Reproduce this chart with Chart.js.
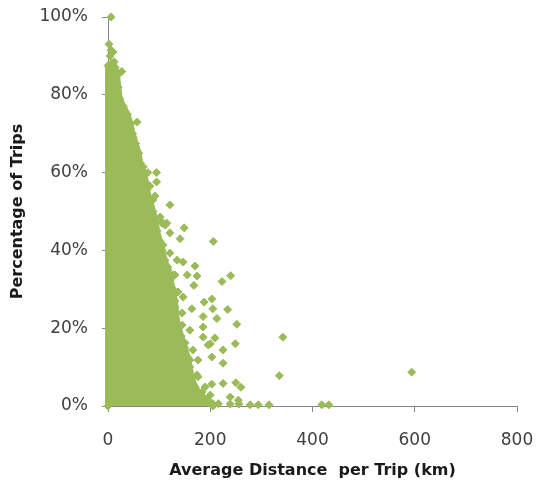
<!DOCTYPE html>
<html>
<head>
<meta charset="utf-8">
<script src="https://cdn.jsdelivr.net/npm/chart.js@4.4.1/dist/chart.umd.min.js"></script>
<style>
  html, body { margin: 0; padding: 0; background: #ffffff; }
  #wrap { width: 538px; height: 486px; }
</style>
</head>
<body>
<div id="wrap"><canvas id="c" width="538" height="486"></canvas></div>
<script>
// Axis ranges and tick steps
const distanceTicks = [0, 200, 400, 600, 800];   // km
const percentTicks = [0, 20, 40, 60, 80, 100];    // %

// Outer edge of the densely packed mass of trips (km, %)
const denseEdgeKm  = [0, 0, 8, 14, 18, 20, 23, 30, 38, 44, 48, 54, 60, 63, 70, 74, 76, 82, 88, 93, 96, 101, 106, 111, 117, 122, 127, 131, 133, 136, 143, 150, 156, 160, 163, 170, 180, 195, 205, 205];
const denseEdgePct = [0, 87.5, 88.2, 87, 85, 82, 79, 77, 75, 72.5, 70, 67.5, 65, 62.5, 60, 57.5, 55.5, 53, 50, 47.5, 45, 42.5, 40, 37.5, 35, 32.5, 30, 27, 24, 21, 18, 15, 12.5, 10, 7.5, 5, 3, 1.5, 0.6, 0];

// Trips scattered just outside that edge (km, %)
const fringeKm  = [33, 49, 39, 57, 69, 63, 72, 88, 82, 102, 115, 108, 121, 108, 121, 117, 127, 121, 137, 131, 145, 127, 145, 160, 151, 166, 160, 176, 190, 200];
const fringePct = [70.5, 69, 65, 64.5, 61.5, 58, 55, 53, 50.4, 48.6, 47, 47, 44.5, 41.4, 39.3, 35.7, 33.7, 30.6, 29.3, 25.4, 23.9, 23.4, 20.8, 19.5, 16.2, 14.4, 11.8, 7.5, 4.9, 2.8];

// Individually visible trips well away from the dense mass (km, %)
const sparseKm  = [6, 2, 6, 10, 4, 27, 12, 57, 78, 95, 95, 82, 92, 121, 106, 112, 149, 206, 141, 135, 147, 170, 131, 155, 174, 168, 223, 240, 147, 188, 203, 164, 205, 234, 252, 342, 249, 225, 174, 225, 250, 260, 335, 594, 418, 432, 186, 209, 196, 225, 203, 176, 184, 239, 255, 216, 239, 256, 278, 294, 315, 203, 213, 186, 200, 186];
const sparsePct = [100, 93, 91.5, 91, 90, 86, 88.5, 73, 60, 60, 57.6, 56.5, 54, 51.7, 47, 46.5, 45.8, 42.3, 43, 37.5, 37, 36, 33.7, 33.7, 33.4, 31, 32, 33.5, 28, 26.7, 27.5, 25, 25, 24.8, 21, 17.7, 16, 11, 8, 5.8, 6, 4.8, 7.8, 8.7, 0.3, 0.3, 20.3, 17.5, 15.7, 14.4, 12.6, 11.8, 3.6, 2.3, 1.5, 0.6, 0.5, 0.5, 0.3, 0.3, 0.3, 5.6, 22.5, 23, 16, 17.7];

const GREEN = '#9BBB59';
const AXIS_GREY = '#868686';

const toPoints = (xs, ys) => xs.map((x, i) => ({ x: x, y: ys[i] }));

// Let the layout padding alone decide where the plot area sits
const noOverhang = s => { s.paddingLeft = 0; s.paddingRight = 0; s.paddingTop = 0; s.paddingBottom = 0; };

const diamond = {
  pointStyle: 'rectRot',
  pointRadius: 4,
  pointBorderWidth: 1,
  pointBackgroundColor: GREEN,
  pointBorderColor: GREEN,
  showLine: false,
  clip: false
};

new Chart(document.getElementById('c'), {
  type: 'scatter',
  data: {
    datasets: [
      {
        label: 'dense trips',
        data: toPoints(denseEdgeKm, denseEdgePct),
        showLine: true,
        fill: 'origin',
        tension: 0,
        borderColor: GREEN,
        backgroundColor: GREEN,
        borderWidth: 6,
        borderJoinStyle: 'round',
        borderCapStyle: 'butt',
        pointRadius: 0,
        clip: false,
        order: 3
      },
      Object.assign({ label: 'edge trips', data: toPoints(denseEdgeKm, denseEdgePct), order: 2 }, diamond),
      Object.assign({ label: 'fringe trips', data: toPoints(fringeKm, fringePct), order: 1 }, diamond),
      Object.assign({ label: 'trips', data: toPoints(sparseKm, sparsePct), order: 0 }, diamond)
    ]
  },
  options: {
    responsive: false,
    animation: false,
    events: [],
    layout: { padding: { top: 17, right: 21, left: 0, bottom: 0 } },
    plugins: { legend: { display: false }, tooltip: { enabled: false } },
    scales: {
      x: {
        type: 'linear',
        min: distanceTicks[0],
        max: distanceTicks[distanceTicks.length - 1],
        afterBuildTicks: s => { s.ticks = distanceTicks.map(v => ({ value: v })); },
        afterFit: s => { s.height = 80; noOverhang(s); },
        grid: { display: true, drawOnChartArea: false, drawTicks: true, tickLength: 6, color: AXIS_GREY },
        border: { display: true, color: AXIS_GREY, width: 1 },
        ticks: { color: '#404040', padding: 18, font: { family: 'DejaVu Sans', size: 17 } },
        title: {
          display: true,
          text: 'Average Distance  per Trip (km)',
          color: '#1a1a1a',
          font: { family: 'DejaVu Sans', size: 16, weight: 'bold' },
          padding: { top: 0, bottom: 6 }
        }
      },
      y: {
        type: 'linear',
        min: percentTicks[0],
        max: percentTicks[percentTicks.length - 1],
        afterBuildTicks: s => { s.ticks = percentTicks.map(v => ({ value: v })); },
        afterFit: s => { s.width = 108; noOverhang(s); },
        grid: { display: true, drawOnChartArea: false, drawTicks: true, tickLength: 6, color: AXIS_GREY },
        border: { display: true, color: AXIS_GREY, width: 1 },
        ticks: { color: '#404040', padding: 14, font: { family: 'DejaVu Sans', size: 17 }, callback: v => v + '%' },
        title: {
          display: true,
          text: 'Percentage of Trips',
          color: '#1a1a1a',
          font: { family: 'DejaVu Sans', size: 16, weight: 'bold' },
          padding: { top: 8, bottom: 0 }
        }
      }
    }
  }
});
</script>
</body>
</html>
